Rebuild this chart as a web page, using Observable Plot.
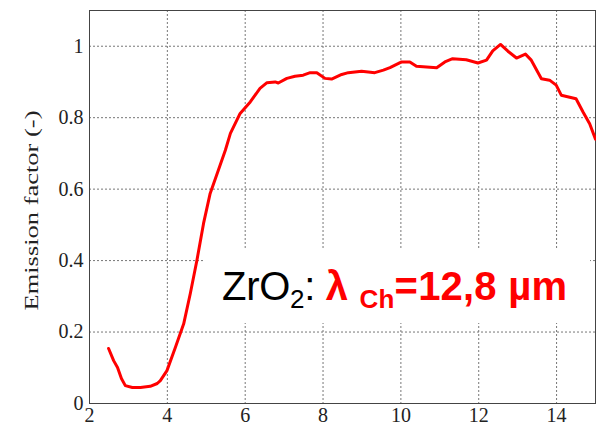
<!DOCTYPE html>
<html><head><meta charset="utf-8">
<script src="https://cdn.jsdelivr.net/npm/d3@7"></script>
<script src="https://cdn.jsdelivr.net/npm/@observablehq/plot@0.6"></script>
<style>
body{margin:0;background:#fff}
#wrap{position:relative;width:596px;height:429px;overflow:hidden}
.note{position:absolute;left:204px;top:250px;width:386px;height:73px;background:#fff;
  font-family:"Liberation Sans",Arial,sans-serif;white-space:nowrap}
.note .t{position:absolute;left:18px;top:12px;font-size:40px;line-height:48px;color:#000;letter-spacing:-0.3px}
.note .r{color:#ff0000;font-weight:bold;letter-spacing:0.2px}
.note sub{font-size:26px;vertical-align:-8px;line-height:0}
</style>
</head><body><div id="wrap"></div><script>
const wavelength = [2.49,2.62,2.72,2.82,2.92,3.10,3.31,3.56,3.74,3.82,3.99,4.21,4.42,4.59,4.76,4.93,5.10,5.31,5.49,5.62,5.87,6.13,6.38,6.56,6.77,6.85,7.07,7.28,7.49,7.67,7.84,8.05,8.22,8.48,8.65,8.99,9.33,9.55,9.72,10.02,10.23,10.40,10.92,11.13,11.33,11.68,11.98,12.20,12.36,12.56,12.75,12.97,13.20,13.35,13.61,13.82,13.99,14.12,14.50,14.68,14.85,15.00];
const emission = [0.154,0.120,0.101,0.070,0.050,0.045,0.045,0.048,0.056,0.064,0.092,0.158,0.223,0.308,0.401,0.504,0.588,0.653,0.709,0.756,0.812,0.844,0.882,0.898,0.900,0.897,0.910,0.916,0.919,0.926,0.926,0.910,0.908,0.921,0.926,0.930,0.926,0.933,0.940,0.956,0.956,0.944,0.940,0.956,0.965,0.962,0.953,0.961,0.987,1.005,0.986,0.967,0.978,0.961,0.909,0.905,0.891,0.863,0.853,0.816,0.783,0.740];
const xTicks = [2,4,6,8,10,12,14];
const yTicks = [0,0.2,0.4,0.6,0.8,1];
const yLabel = "Emission factor (-)";

const data = wavelength.map((x,i)=>({x, y: emission[i]}));
const serif = "'Liberation Serif','Times New Roman',serif";

const chart = Plot.plot({
  width: 596, height: 429,
  marginLeft: 89, marginRight: 1, marginTop: 10, marginBottom: 26,
  style: {fontFamily: serif, fontSize: "20px", color: "#222", background: "#fff"},
  x: {domain: [2, 15]},
  y: {domain: [0, 1.1]},
  marks: [
    Plot.gridX(xTicks.slice(1), {stroke: "#777", strokeOpacity: 1, strokeDasharray: "2,2"}),
    Plot.gridY(yTicks.slice(1), {stroke: "#777", strokeOpacity: 1, strokeDasharray: "2,2"}),
    Plot.frame({stroke: "#444"}),
    Plot.axisX({ticks: xTicks, tickSize: 0, tickPadding: 4, fontSize: 20, label: null, tickFormat: d3.format("d")}),
    Plot.axisY({ticks: yTicks, tickSize: 0, tickPadding: 6, fontSize: 20, tickFormat: d => String(d), label: null}),
    Plot.text([yLabel], {frameAnchor: "bottom-left", textAnchor: "start", rotate: -90, dx: -52, dy: -93,
      fontSize: 18, fill: "#222", text: d => d}),
    Plot.line(data, {x: "x", y: "y", stroke: "#ff0000", strokeWidth: 3, strokeLinejoin: "round"})
  ]
});
// stretch the y-axis title along its length, as in the reference
d3.select(chart).selectAll("text").filter(function(){ return this.textContent === yLabel; })
  .attr("textLength", 200).attr("lengthAdjust", "spacingAndGlyphs");
const wrap = document.getElementById("wrap");
wrap.appendChild(chart);
const note = document.createElement("div");
note.className = "note";
note.innerHTML = '<div class="t">ZrO<sub style="font-weight:normal">2</sub>: <span class="r">λ <sub>Ch</sub>=12,8 µm</span></div>';
wrap.appendChild(note);
</script></body></html>
